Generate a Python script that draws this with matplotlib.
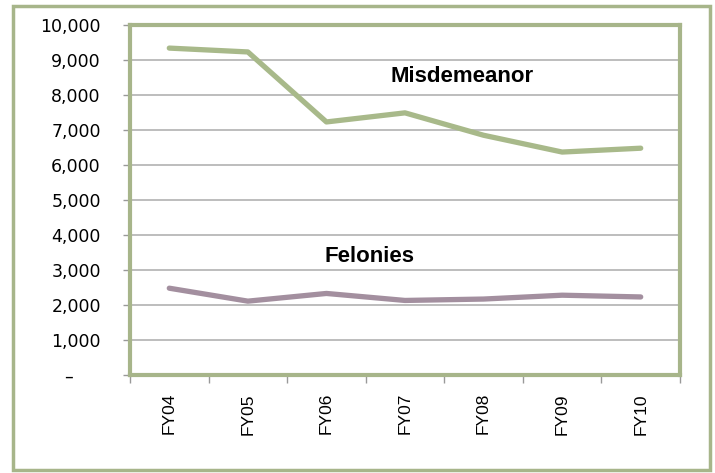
import matplotlib
matplotlib.use("Agg")
import matplotlib.pyplot as plt
from matplotlib.patches import Rectangle
from matplotlib.ticker import FuncFormatter

categories = ["FY04", "FY05", "FY06", "FY07", "FY08", "FY09", "FY10"]
misdemeanor = [9340, 9230, 7230, 7490, 6850, 6370, 6480]
felonies = [2480, 2110, 2330, 2130, 2170, 2280, 2230]
yticks = list(range(0, 10001, 1000))

W, H = 715, 473
fig = plt.figure(figsize=(W / 100, H / 100), dpi=100)
fig.patch.set_facecolor("white")

frame_col = "#a7b58a"
fig.patches.append(Rectangle((13 / W, 1 - 470 / H), (710 - 13) / W, (470 - 6) / H,
                             transform=fig.transFigure, fill=False,
                             edgecolor=frame_col, linewidth=2.5))

ax = fig.add_axes([130 / W, 1 - 375 / H, 550 / W, 350 / H])
x = list(range(len(categories)))
ax.plot(x, misdemeanor, color="#a8b98a", lw=3.8, solid_capstyle="round", zorder=3)
ax.plot(x, felonies, color="#a38f9f", lw=3.8, solid_capstyle="round", zorder=3)

ax.set_xlim(-0.5, len(categories) - 0.5)
ax.set_ylim(0, 10000)
ax.set_yticks(yticks)
ax.yaxis.set_major_formatter(FuncFormatter(lambda v, p: "–     " if v == 0 else f"{int(v):,}"))
ax.grid(axis="y", color="#b8b8b8", lw=1.3)
ax.set_axisbelow(True)

ax.set_xticks(x)
ax.set_xticklabels(categories, rotation=90, fontsize=12.5, family="Liberation Sans")
ax.set_xticks([i - 0.5 for i in range(len(categories) + 1)], minor=True)
ax.tick_params(axis="x", which="major", length=0, pad=13)
ax.tick_params(axis="x", which="minor", length=6, color="#999999", width=1)
ax.tick_params(axis="y", length=5, color="#999999", width=1, labelsize=12.5, pad=16)
for lab in ax.get_yticklabels():
    lab.set_family("DejaVu Sans")

for s in ax.spines.values():
    s.set_color(frame_col)
    s.set_linewidth(3)

lab_font = dict(family=["Liberation Sans Narrow", "Liberation Sans"], fontweight="bold", fontsize=16)
ax.text(3.73, 8540, "Misdemeanor", ha="center", va="center", **lab_font)
ax.text(2.55, 3400, "Felonies", ha="center", va="center", **lab_font)

fig.savefig("out.png", dpi=100, facecolor="white")
